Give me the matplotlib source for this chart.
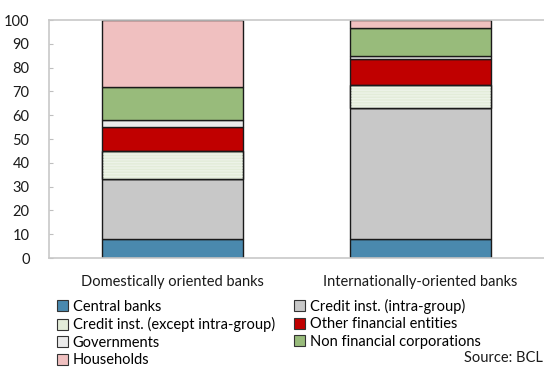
import matplotlib
matplotlib.use("Agg")
import matplotlib.pyplot as plt
from matplotlib.patches import Patch

plt.rcParams['font.family'] = ['Lato', 'DejaVu Sans']

categories = ["Domestically oriented banks", "Internationally-oriented banks"]
series_names = [
    "Central banks",
    "Credit inst. (intra-group)",
    "Credit inst. (except intra-group)",
    "Other financial entities",
    "Governments",
    "Non financial corporations",
    "Households",
]
central_banks = [8.0, 8.0]
credit_intra = [25.0, 55.0]
credit_except = [12.0, 9.5]
other_financial = [10.0, 11.0]
governments = [3.0, 1.5]
non_financial = [14.0, 11.5]
households = [28.0, 3.5]

colors = ["#4a89ae", "#c8c8c8", "#e3ecd9", "#c00000", "#ebebeb", "#98bb7b", "#f0c0c0"]
values = [central_banks, credit_intra, credit_except, other_financial,
          governments, non_financial, households]

fig = plt.figure(figsize=(5.44, 3.67), dpi=100)
ax = fig.add_axes([0.090, 0.297, 0.910, 0.6485])

x = [0, 1]
width = 0.57
bottom = [0.0, 0.0]
for name, vals, col in zip(series_names, values, colors):
    ax.bar(x, vals, width, bottom=bottom, color=col, edgecolor="#1a1a1a",
           linewidth=1.0, zorder=2)
    if name == "Credit inst. (except intra-group)":
        # faint horizontal striping on this segment
        ax.bar(x, vals, width, bottom=bottom, color="none", edgecolor="#edf3e8",
               linewidth=0, hatch="------", zorder=2.5)
        ax.bar(x, vals, width, bottom=bottom, color="none", edgecolor="#1a1a1a",
               linewidth=1.0, zorder=3)
    bottom = [b + v for b, v in zip(bottom, vals)]

ax.set_xlim(-0.5, 1.5)
ax.set_ylim(0, 100)
ax.set_yticks(range(0, 101, 10))
ax.set_xticks(x)
ax.set_xticklabels(categories, fontsize=10.5, color="#1a1a1a")
ax.tick_params(axis="x", length=0, pad=12)
ax.tick_params(axis="y", direction="in", length=3, color="#bfbfbf",
               labelsize=10.5, labelcolor="#1a1a1a", pad=14)
for side in ["left", "bottom", "top"]:
    ax.spines[side].set_color("#c8c8c8")
    ax.spines[side].set_linewidth(1.2)
ax.spines["right"].set_visible(False)

handles = [Patch(facecolor=c, edgecolor="#333333", linewidth=0.8) for c in colors]
order = [0, 2, 4, 6, 1, 3, 5]
fig.legend([handles[i] for i in order], [series_names[i] for i in order],
           ncol=2, loc="upper left", bbox_to_anchor=(0.104, 0.186),
           frameon=False, fontsize=10.5, handlelength=0.75, handleheight=0.75,
           handletextpad=0.35, labelspacing=0.24, columnspacing=1.3,
           borderaxespad=0, borderpad=0)

fig.text(0.998, 0.006, "Source: BCL", ha="right", va="bottom", fontsize=10.5,
         color="#1a1a1a")

fig.savefig("out.png", dpi=100)
